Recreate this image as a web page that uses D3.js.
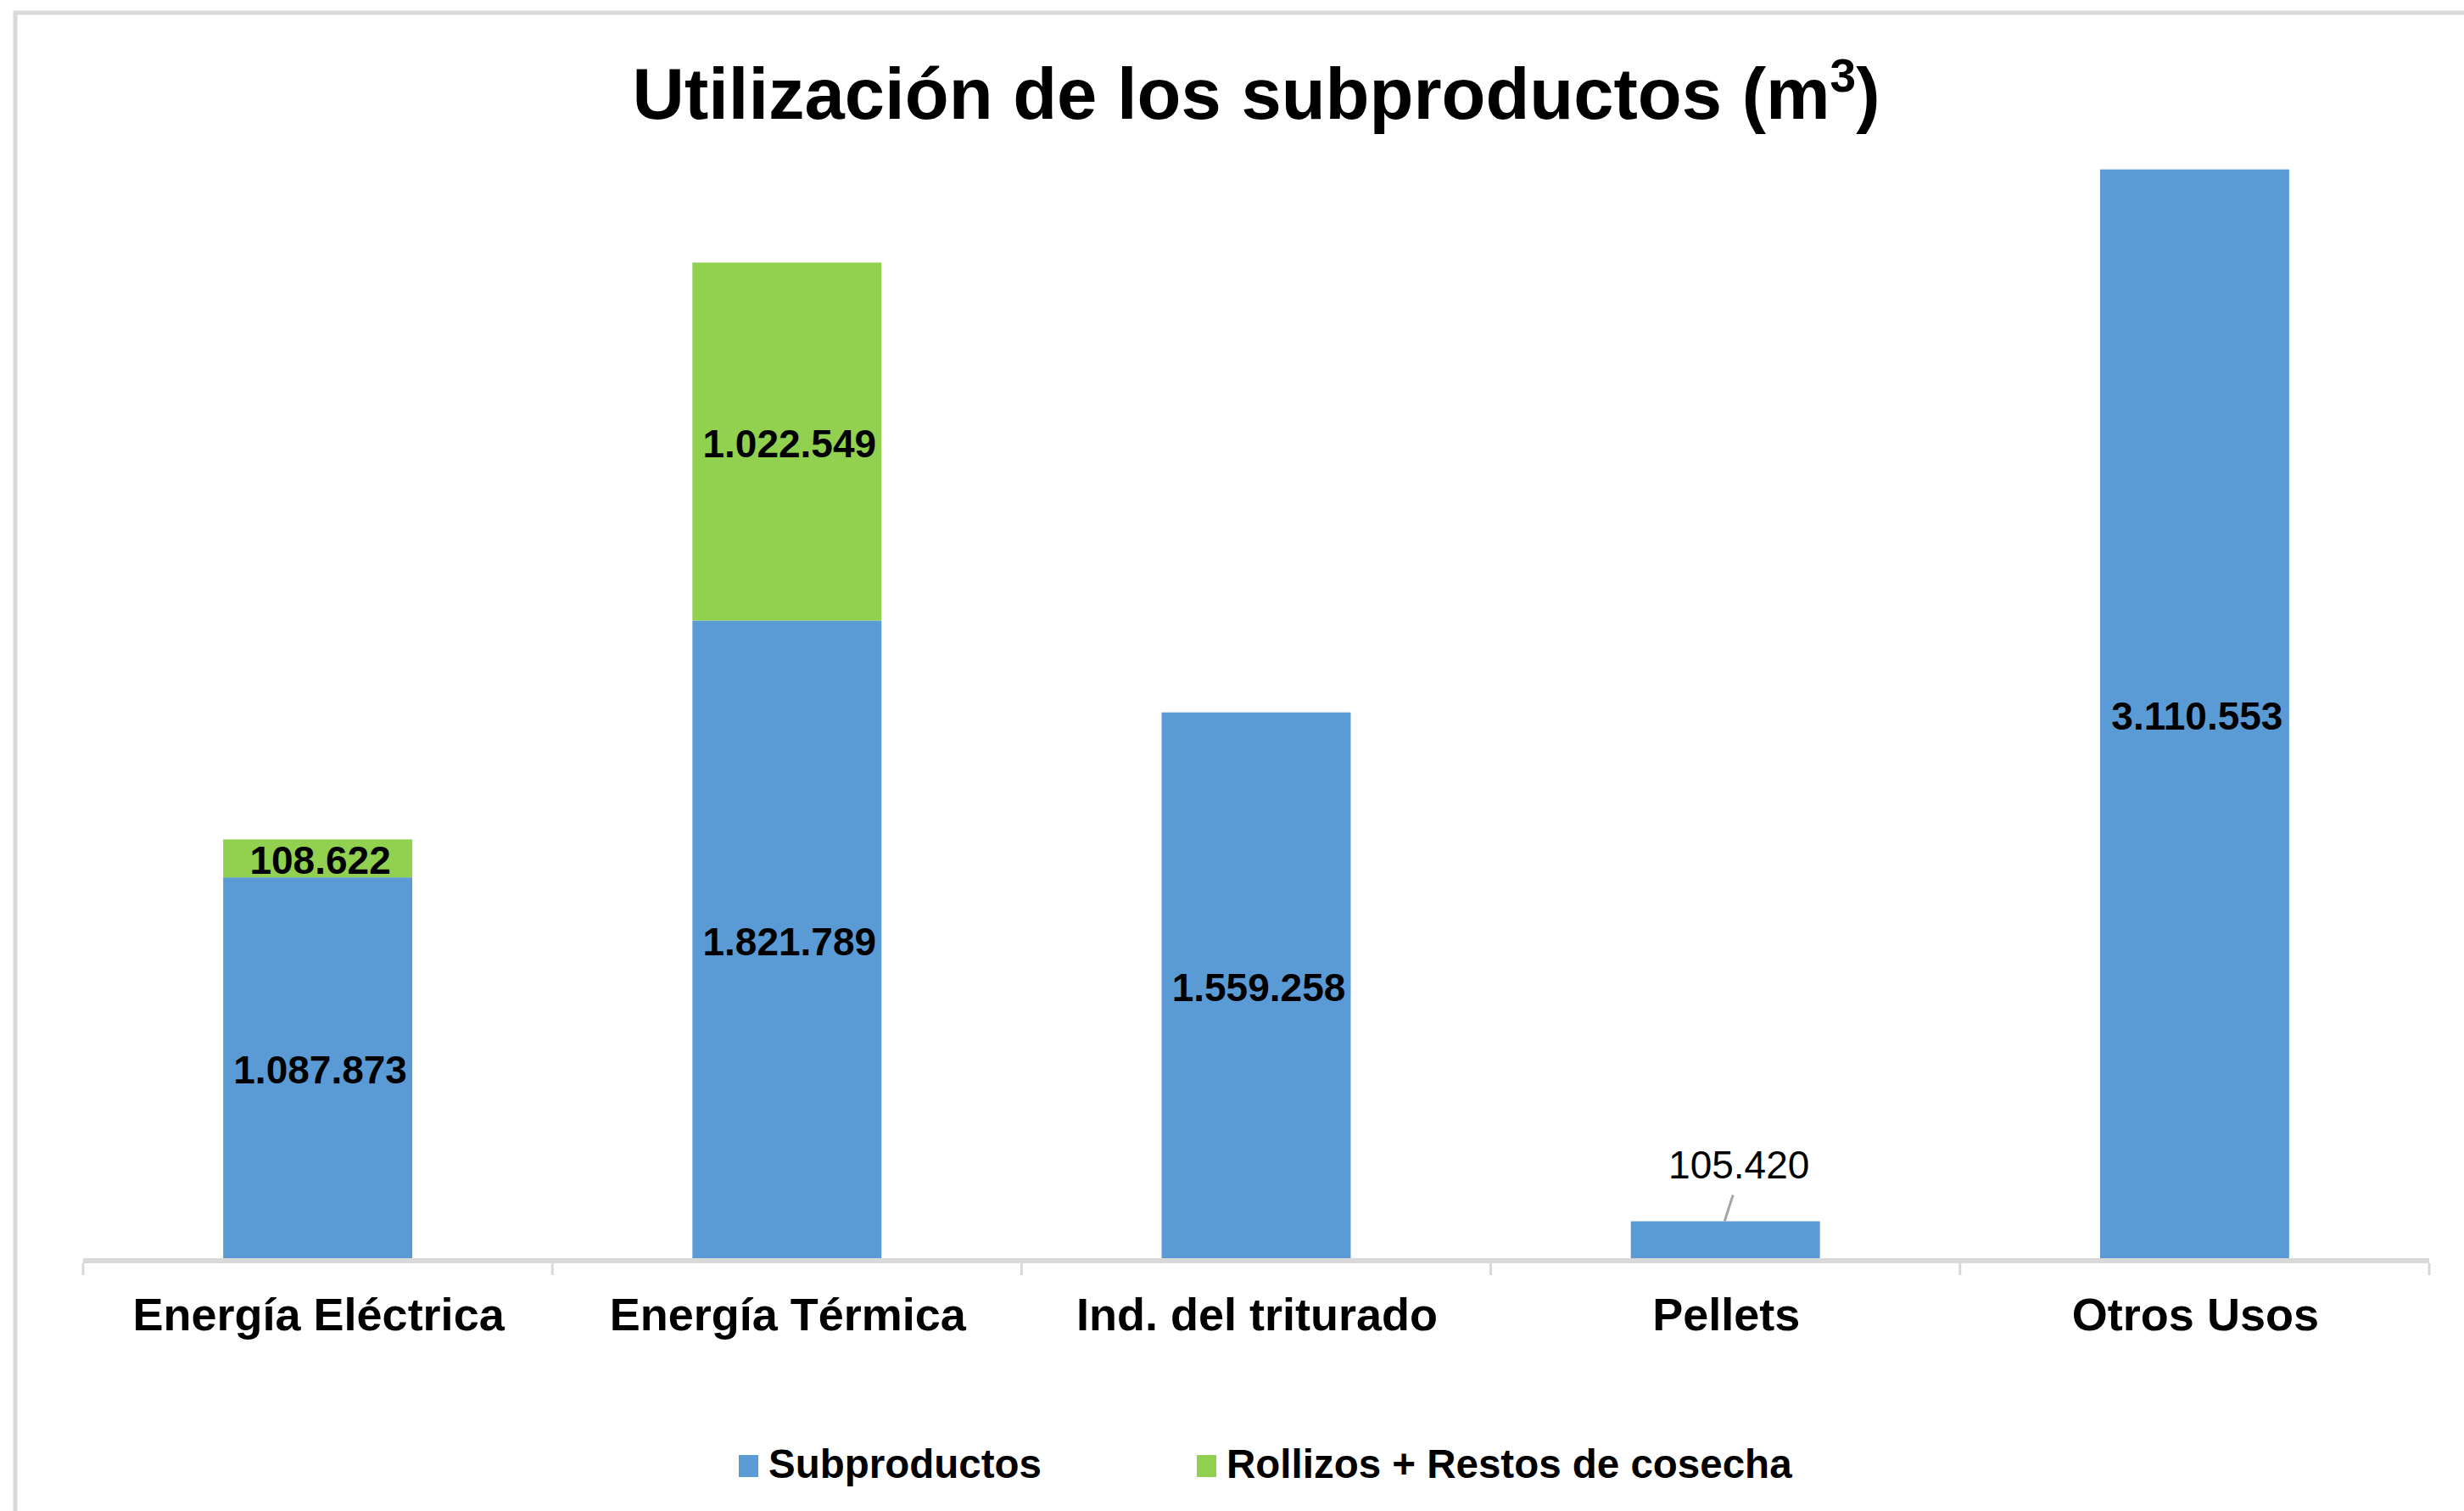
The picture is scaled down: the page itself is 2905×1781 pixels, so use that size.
<!DOCTYPE html>
<html>
<head>
<meta charset="utf-8">
<script src="https://cdn.jsdelivr.net/npm/d3@7"></script>
<style>
  html, body { margin: 0; padding: 0; background: #ffffff; }
  svg { display: block; }
  text { font-family: "Liberation Sans", Arial, Helvetica, sans-serif; fill: #000; }
</style>
</head>
<body>
<script>
// ---- Data ----
const categories = ["Energía Eléctrica", "Energía Térmica", "Ind. del triturado", "Pellets", "Otros Usos"];
const subproductos = [1087873, 1821789, 1559258, 105420, 3110553];
const rollizos = [108622, 1022549, null, null, null];
const seriesNames = ["Subproductos", "Rollizos + Restos de cosecha"];
const seriesColors = ["#5B9BD5", "#92D050"];
const yMax = 3500000;
const title = "Utilización de los subproductos (m";
const titleSup = "3";

// ---- Layout ----
const W = 2905, H = 1781;
const plot = { left: 98, right: 2864, top: 39, bottom: 1483 };

const svg = d3.select("body").append("svg").attr("width", W).attr("height", H);

// chart border (only top and left visible in frame)
svg.append("rect").attr("x", 18).attr("y", 15).attr("width", W + 20).attr("height", H + 20)
  .attr("fill", "#fff").attr("stroke", "#d9d9d9").attr("stroke-width", 5);

const fmt = d3.formatLocale({ decimal: ",", thousands: ".", grouping: [3], currency: ["", ""] }).format(",d");

const x = d3.scaleBand().domain(categories).range([plot.left, plot.right]).padding(0);
const y = d3.scaleLinear().domain([0, yMax]).range([plot.bottom, plot.top]);
const barW = x.bandwidth() * 0.403;

const rows = categories.map((c, i) => ({ cat: c, s: subproductos[i], r: rollizos[i] || 0 }));
const stack = d3.stack().keys(["s", "r"])(rows);

// bars
stack.forEach((layer, li) => {
  svg.append("g").selectAll("rect").data(layer.filter(d => d[1] > d[0])).join("rect")
    .attr("x", d => x(d.data.cat) + x.bandwidth() / 2 - barW / 2)
    .attr("width", barW)
    .attr("y", d => y(d[1]))
    .attr("height", d => y(d[0]) - y(d[1]))
    .attr("fill", seriesColors[li]);
});

// axis line and ticks
const axisG = svg.append("g");
axisG.append("line").attr("x1", plot.left).attr("x2", plot.right)
  .attr("y1", plot.bottom + 3).attr("y2", plot.bottom + 3)
  .attr("stroke", "#d9d9d9").attr("stroke-width", 6);
const tickXs = categories.map(c => x(c)).concat([plot.right]);
axisG.selectAll("line.tick").data(tickXs).join("line").attr("class", "tick")
  .attr("x1", d => d).attr("x2", d => d)
  .attr("y1", plot.bottom + 6).attr("y2", plot.bottom + 20)
  .attr("stroke", "#d9d9d9").attr("stroke-width", 3);

// category labels
svg.append("g").selectAll("text").data(categories).join("text")
  .attr("x", d => x(d) + x.bandwidth() / 2 + 1)
  .attr("y", 1568)
  .attr("text-anchor", "middle")
  .attr("font-size", 54).attr("font-weight", "bold")
  .text(d => d);

// data labels (centered in segments; tiny stacks labeled outside with leader)
stack.forEach((layer, li) => {
  layer.forEach(d => {
    const v = d[1] - d[0];
    if (v <= 0) return;
    const cx = x(d.data.cat) + x.bandwidth() / 2;
    const top = y(d[1]), bot = y(d[0]);
    const totalH = plot.bottom - top;
    if (totalH < 60) {
      svg.append("line")
        .attr("x1", cx - 1).attr("y1", top)
        .attr("x2", cx + 9).attr("y2", top - 31)
        .attr("stroke", "#a6a6a6").attr("stroke-width", 3);
      svg.append("text").attr("x", cx + 16).attr("y", top - 67).attr("dy", "0.36em")
        .attr("text-anchor", "middle").attr("font-size", 46)
        .text(fmt(v));
    } else {
      svg.append("text").attr("x", cx + 3).attr("y", (top + bot) / 2 + 2).attr("dy", "0.36em")
        .attr("text-anchor", "middle").attr("font-size", 46).attr("font-weight", "bold")
        .text(fmt(v));
    }
  });
});

// title
const t = svg.append("text").attr("x", (plot.left + plot.right) / 2).attr("y", 140)
  .attr("text-anchor", "middle").attr("font-size", 85).attr("font-weight", "bold");
t.append("tspan").text(title);
t.append("tspan").attr("font-size", 55).attr("dy", -32).text(titleSup);
t.append("tspan").attr("dy", 32).text(")");

// legend
const legendItems = [
  { name: seriesNames[0], color: seriesColors[0], x: 871 },
  { name: seriesNames[1], color: seriesColors[1], x: 1411 }
];
const lg = svg.append("g").selectAll("g").data(legendItems).join("g");
lg.append("rect").attr("x", d => d.x).attr("y", 1715).attr("width", 23).attr("height", 26)
  .attr("fill", d => d.color);
lg.append("text").attr("x", d => d.x + 35).attr("y", 1742)
  .attr("font-size", 47.5).attr("font-weight", "bold").text(d => d.name);
</script>
</body>
</html>
